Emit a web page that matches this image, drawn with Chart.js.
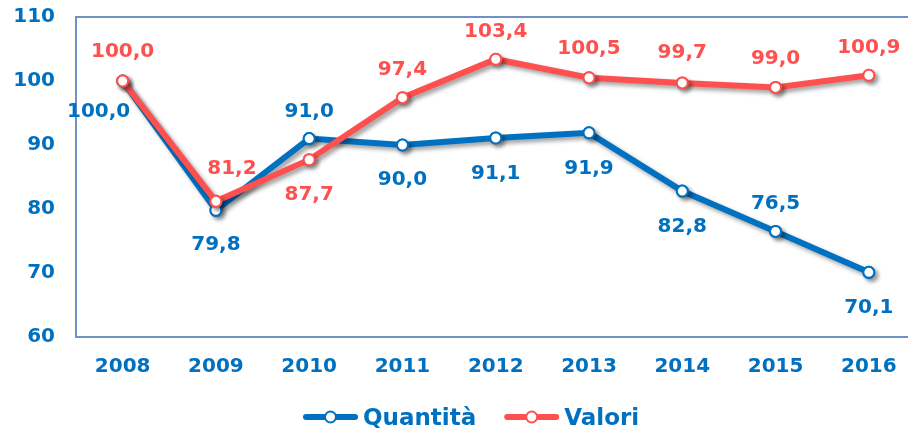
<!DOCTYPE html>
<html>
<head>
<meta charset="utf-8">
<script src="https://cdn.jsdelivr.net/npm/chart.js@4.4.1/dist/chart.umd.min.js"></script>
<style>
  html, body { margin: 0; padding: 0; background: #ffffff; }
  #wrap { width: 908px; height: 432px; }
</style>
</head>
<body>
<div id="wrap"><canvas id="c" width="908" height="432"></canvas></div>
<script>
// ---- data ----
const years = [2008, 2009, 2010, 2011, 2012, 2013, 2014, 2015, 2016];
const quantita = [100.0, 79.8, 91.0, 90.0, 91.1, 91.9, 82.8, 76.5, 70.1];
const valori = [100.0, 81.2, 87.7, 97.4, 103.4, 100.5, 99.7, 99.0, 100.9];
const yTicks = [60, 70, 80, 90, 100, 110];
const seriesNames = ['Quantità', 'Valori'];

// ---- styling ----
const BLUE = '#0070c0';
const RED = '#ff5050';
const AXIS = '#6f91c6';
const FONT = "'DejaVu Sans', Verdana, sans-serif";

// label placement offsets (px) relative to each point
const quantitaLabelOffsets = [[-24, 29], [0, 32], [0, -29], [0, 33], [0, 34], [0, 34], [0, 34], [0, -30], [0, 33]];
const valoriLabelOffsets = [[0, -31], [16, -35], [0, 33], [0, -30], [0, -30], [0, -31], [0, -32], [0, -31], [0, -30]];

function drawSymbol(g, x, y, color) {
  g.save();
  g.strokeStyle = color; g.lineWidth = 6; g.lineCap = 'round';
  g.beginPath(); g.moveTo(x + 3, y); g.lineTo(x + 52, y); g.stroke();
  g.beginPath(); g.arc(x + 27.5, y, 5.5, 0, Math.PI * 2);
  g.fillStyle = '#ffffff'; g.fill();
  g.lineWidth = 2; g.strokeStyle = color; g.stroke();
  g.restore();
}

const shadowPlugin = {
  id: 'shadow',
  beforeDatasetDraw(chart) {
    const ctx = chart.ctx;
    ctx.save();
    ctx.shadowColor = 'rgba(0,0,0,0.38)';
    ctx.shadowBlur = 4;
    ctx.shadowOffsetX = 3;
    ctx.shadowOffsetY = 3;
  },
  afterDatasetDraw(chart, args) {
    chart.ctx.restore();
    // redraw markers crisply on top (keeps their outer shadow, clean white centre)
    args.meta.data.forEach(p => p.draw(chart.ctx, chart.chartArea));
  }
};

const topBorderPlugin = {
  id: 'topBorder',
  beforeDatasetsDraw(chart) {
    const {ctx, chartArea} = chart;
    ctx.save();
    ctx.strokeStyle = AXIS; ctx.lineWidth = 2;
    ctx.beginPath();
    ctx.moveTo(chartArea.left - 1, chartArea.top);
    ctx.lineTo(chartArea.right, chartArea.top);
    ctx.stroke();
    ctx.restore();
  }
};

const labelPlugin = {
  id: 'valueLabels',
  afterDatasetsDraw(chart) {
    const ctx = chart.ctx;
    const offsets = [quantitaLabelOffsets, valoriLabelOffsets];
    const colors = [BLUE, RED];
    ctx.save();
    ctx.font = 'bold 20px ' + FONT;
    ctx.textAlign = 'center';
    ctx.textBaseline = 'alphabetic';
    chart.data.datasets.forEach((ds, di) => {
      const meta = chart.getDatasetMeta(di);
      ctx.fillStyle = colors[di];
      meta.data.forEach((pt, i) => {
        const v = ds.data[i].y;
        const txt = v.toFixed(1).replace('.', ',');
        const o = offsets[di][i];
        ctx.fillText(txt, pt.x + o[0], pt.y + o[1] + 7.3);
      });
    });
    ctx.restore();
  }
};

const legendPlugin = {
  id: 'lineLegend',
  afterDraw(chart) {
    const ctx = chart.ctx;
    const colors = [BLUE, RED];
    ctx.save();
    ctx.font = 'bold 23px ' + FONT;
    ctx.textAlign = 'left';
    ctx.textBaseline = 'alphabetic';
    let x = 303;
    const yMid = 417;
    chart.data.datasets.forEach((ds, di) => {
      drawSymbol(ctx, x, yMid, colors[di]);
      const tx = x + 60;
      ctx.fillStyle = BLUE;
      ctx.fillText(ds.label, tx, yMid + 8.4);
      x = tx + ctx.measureText(ds.label).width + 28;
    });
    ctx.restore();
  }
};

new Chart(document.getElementById('c'), {
  type: 'line',
  data: {
    datasets: [
      {
        label: seriesNames[0],
        data: years.map((y, i) => ({x: y, y: quantita[i]})),
        borderColor: BLUE, backgroundColor: '#ffffff',
        borderWidth: 6, pointRadius: 5.5, pointBorderWidth: 2,
        pointBackgroundColor: '#ffffff', pointBorderColor: BLUE,
        tension: 0, order: 1
      },
      {
        label: seriesNames[1],
        data: years.map((y, i) => ({x: y, y: valori[i]})),
        borderColor: RED, backgroundColor: '#ffffff',
        borderWidth: 6, pointRadius: 5.5, pointBorderWidth: 2,
        pointBackgroundColor: '#ffffff', pointBorderColor: RED,
        tension: 0, order: 0
      }
    ]
  },
  options: {
    responsive: false,
    devicePixelRatio: 1,
    animation: false,
    layout: { autoPadding: false, padding: { left: 0, right: 0, top: 17, bottom: 50 } },
    scales: {
      x: {
        type: 'linear',
        min: 2007.5, max: 2016.42,
        grid: { display: false, drawTicks: true, tickLength: 17.5 },
        border: { display: true, color: AXIS, width: 2 },
        afterBuildTicks: (s) => { s.ticks = years.map(v => ({value: v})); },
        afterFit: (s) => { s.height = 45; s.paddingLeft = 0; s.paddingRight = 0; },
        ticks: {
          color: BLUE, padding: 0,
          font: { family: FONT, size: 20, weight: 'bold' },
          callback: (v) => String(v),
          maxRotation: 0, autoSkip: false
        }
      },
      y: {
        min: 60, max: 110,
        grid: { display: false, drawTicks: true, tickLength: 21 },
        border: { display: true, color: AXIS, width: 2 },
        afterBuildTicks: (s) => { s.ticks = yTicks.map(v => ({value: v})); },
        afterFit: (s) => { s.width = 76; },
        ticks: {
          color: BLUE, padding: 0,
          font: { family: FONT, size: 20, weight: 'bold' },
          callback: (v) => String(v)
        }
      }
    },
    plugins: {
      tooltip: { enabled: false },
      legend: { display: false }
    }
  },
  plugins: [shadowPlugin, topBorderPlugin, labelPlugin, legendPlugin]
});
</script>
</body>
</html>
